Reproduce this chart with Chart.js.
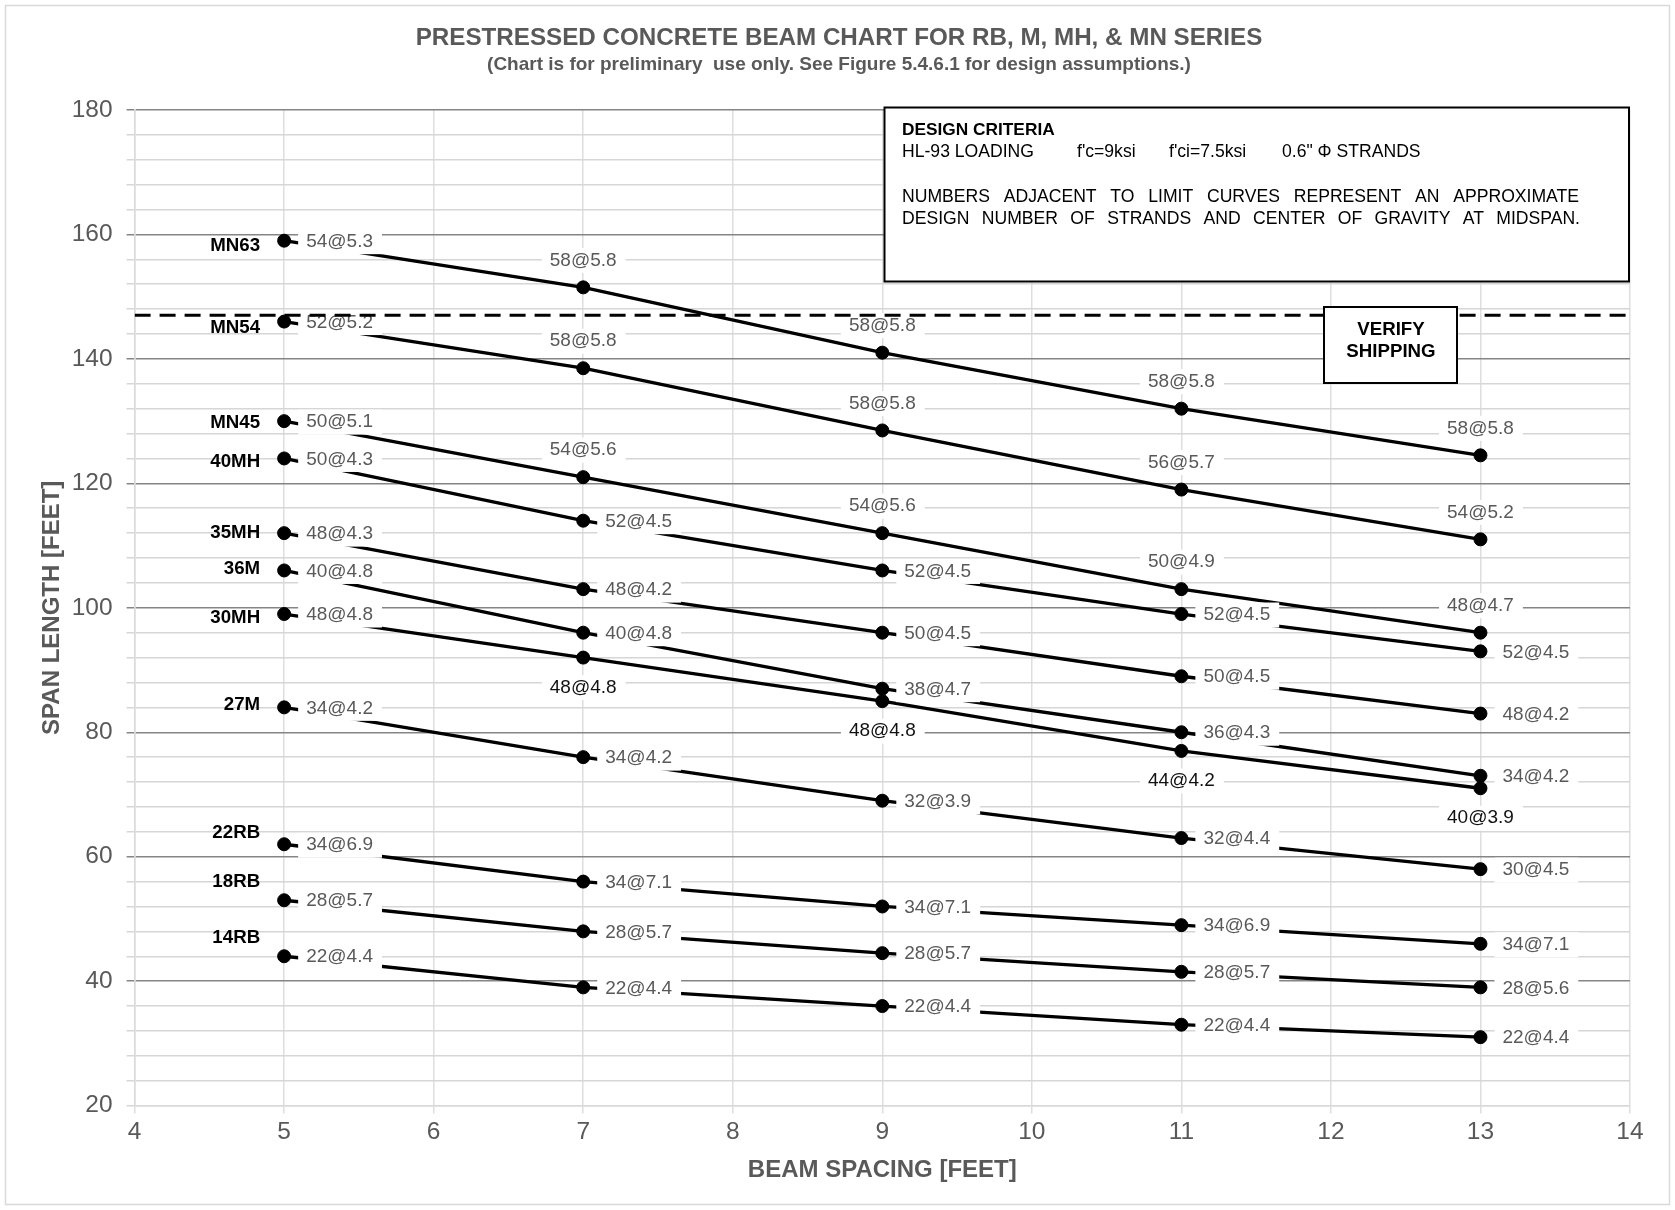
<!DOCTYPE html>
<html>
<head>
<meta charset="utf-8">
<title>Prestressed Concrete Beam Chart</title>
<script src="https://cdn.jsdelivr.net/npm/chart.js@4.4.1/dist/chart.umd.min.js"></script>
<style>
  html, body { margin: 0; padding: 0; background: #fff; }
  canvas { display: block; }
</style>
</head>
<body>
<canvas id="beamChart" width="1675" height="1210"></canvas>
<script>
// beam spacing (ft) where each limit curve was evaluated
const spacing = [5, 7, 9, 11, 13];
const beams = ["MN63", "MN54", "MN45", "40MH", "35MH", "36M", "30MH", "27M", "22RB", "18RB", "14RB"];

// max span length (ft), one value per spacing
const mn63 = [159, 151.5, 141, 132, 124.5];
const mn54 = [146, 138.5, 128.5, 119, 111];
const mn45 = [130, 121, 112, 103, 96];
const mh40 = [124, 114, 106, 99, 93];
const mh35 = [112, 103, 96, 89, 83];
const m36 = [106, 96, 87, 80, 73];
const mh30 = [99, 92, 85, 77, 71];
const m27 = [84, 76, 69, 63, 58];
const rb22 = [62, 56, 52, 49, 46];
const rb18 = [53, 48, 44.5, 41.5, 39];
const rb14 = [44, 39, 36, 33, 31];
const spans = [mn63, mn54, mn45, mh40, mh35, m36, mh30, m27, rb22, rb18, rb14];

// strands @ c.g. at midspan, shown next to each point
const mn63Strands = ["54@5.3", "58@5.8", "58@5.8", "58@5.8", "58@5.8"];
const mn54Strands = ["52@5.2", "58@5.8", "58@5.8", "56@5.7", "54@5.2"];
const mn45Strands = ["50@5.1", "54@5.6", "54@5.6", "50@4.9", "48@4.7"];
const mh40Strands = ["50@4.3", "52@4.5", "52@4.5", "52@4.5", "52@4.5"];
const mh35Strands = ["48@4.3", "48@4.2", "50@4.5", "50@4.5", "48@4.2"];
const m36Strands = ["40@4.8", "40@4.8", "38@4.7", "36@4.3", "34@4.2"];
const mh30Strands = ["48@4.8", "48@4.8", "48@4.8", "44@4.2", "40@3.9"];
const m27Strands = ["34@4.2", "34@4.2", "32@3.9", "32@4.4", "30@4.5"];
const rb22Strands = ["34@6.9", "34@7.1", "34@7.1", "34@6.9", "34@7.1"];
const rb18Strands = ["28@5.7", "28@5.7", "28@5.7", "28@5.7", "28@5.6"];
const rb14Strands = ["22@4.4", "22@4.4", "22@4.4", "22@4.4", "22@4.4"];
const strands = [mn63Strands, mn54Strands, mn45Strands, mh40Strands, mh35Strands, m36Strands,
  mh30Strands, m27Strands, rb22Strands, rb18Strands, rb14Strands];

const shippingLimit = 147;

// where each label sits: r = right of point, a = above, b = below
const labelSide = ["raaaa", "raaaa", "raaaa", "rrrrr", "rrrrr", "rrrrr", "rbbbb", "rrrrr", "rrrrr", "rrrrr", "rrrrr"];
// vertical nudge (px) of the beam name vs its first point
const nameShift = [5, 6, 2, 3, 0, -2, 4, -3, -11, -18, -18];

const FONT = '"Liberation Sans", Arial, sans-serif';
const GRAY = "#595959";

function drawLabel(ctx, text, px, py, side, color) {
  ctx.font = "19px " + FONT;
  const w = ctx.measureText(text).width;
  let tx, cy;
  if (side === "r") { tx = px + 22; cy = py + 1; }
  else if (side === "a") { tx = px - w / 2; cy = py - 27; }
  else { tx = px - w / 2; cy = py + 30; }
  ctx.fillStyle = "#fff";
  ctx.fillRect(tx - 8, cy - 12.5, w + 17, 25);
  ctx.fillStyle = color;
  ctx.textAlign = "left";
  ctx.textBaseline = "middle";
  ctx.fillText(text, tx, cy);
}

function justify(ctx, text, x0, x1, y) {
  const words = text.split(" ");
  let total = 0;
  words.forEach(w => total += ctx.measureText(w).width);
  const gap = (x1 - x0 - total) / (words.length - 1);
  let x = x0;
  words.forEach(w => { ctx.fillText(w, x, y); x += ctx.measureText(w).width + gap; });
}

const beamLabels = {
  id: "beamLabels",
  beforeDraw(chart) {
    const ctx = chart.ctx;
    ctx.save();
    ctx.fillStyle = "#fff";
    ctx.fillRect(0, 0, chart.width, chart.height);
    ctx.strokeStyle = "#d9d9d9";
    ctx.lineWidth = 1.5;
    ctx.strokeRect(5.5, 5.5, 1664, 1199);
    ctx.restore();
  },
  beforeDatasetDraw(chart, args) {
    // labels go under the dashed shipping line but over the curves
    if (args.index !== beams.length) return;
    const ctx = chart.ctx;
    ctx.save();
    beams.forEach((b, i) => {
      chart.getDatasetMeta(i).data.forEach((p, j) => {
        const side = labelSide[i][j];
        drawLabel(ctx, strands[i][j], p.x, p.y, side, side === "b" ? "#111" : GRAY);
      });
    });
    ctx.restore();
  },
  afterDatasetsDraw(chart) {
    const ctx = chart.ctx;
    ctx.save();
    // beam names
    ctx.font = "bold 18.7px " + FONT;
    ctx.fillStyle = "#000";
    ctx.textAlign = "right";
    ctx.textBaseline = "middle";
    beams.forEach((b, i) => {
      const p = chart.getDatasetMeta(i).data[0];
      ctx.fillText(b, p.x - 24, p.y + nameShift[i]);
    });

    // design criteria box
    ctx.fillStyle = "#fff";
    ctx.fillRect(884.5, 107.5, 744.5, 174);
    ctx.strokeStyle = "#000";
    ctx.lineWidth = 2;
    ctx.strokeRect(884.5, 107.5, 744.5, 174);
    ctx.fillStyle = "#000";
    ctx.textAlign = "left";
    ctx.font = "bold 17.3px " + FONT;
    ctx.fillText("DESIGN CRITERIA", 902, 130);
    ctx.font = "17.6px " + FONT;
    ctx.fillText("HL-93 LOADING", 902, 152);
    ctx.fillText("f'c=9ksi", 1077, 152);
    ctx.fillText("f'ci=7.5ksi", 1169, 152);
    ctx.fillText("0.6\" \u03A6 STRANDS", 1282, 152);
    justify(ctx, "NUMBERS ADJACENT TO LIMIT CURVES REPRESENT AN APPROXIMATE", 902, 1579, 197);
    justify(ctx, "DESIGN NUMBER OF STRANDS AND CENTER OF GRAVITY AT MIDSPAN.", 902, 1580, 219);

    // verify shipping box
    ctx.fillStyle = "#fff";
    ctx.fillRect(1324, 307, 133, 76);
    ctx.strokeRect(1324, 307, 133, 76);
    ctx.fillStyle = "#000";
    ctx.textAlign = "center";
    ctx.font = "bold 18.7px " + FONT;
    ctx.fillText("VERIFY", 1391, 330);
    ctx.fillText("SHIPPING", 1391, 352);
    ctx.restore();
  },
  afterDraw(chart) {
    const ctx = chart.ctx;
    ctx.save();
    ctx.fillStyle = GRAY;
    ctx.textAlign = "center";
    ctx.textBaseline = "middle";
    ctx.font = "bold 24.2px " + FONT;
    ctx.fillText("PRESTRESSED CONCRETE BEAM CHART FOR RB, M, MH, & MN SERIES", 839, 38.5);
    ctx.font = "bold 19px " + FONT;
    ctx.fillText("(Chart is for preliminary  use only. See Figure 5.4.6.1 for design assumptions.)", 839, 65);
    ctx.restore();
  }
};

const datasets = beams.map((b, i) => ({
  label: b,
  data: spacing.map((x, j) => ({ x: x, y: spans[i][j] })),
  borderColor: "#000",
  backgroundColor: "#000",
  borderWidth: 3.3,
  pointRadius: 6.5,
  pointBorderWidth: 1,
  pointHoverRadius: 6.5,
  tension: 0,
  order: 0
}));
datasets.push({
  label: "Verify shipping",
  data: [{ x: 4, y: shippingLimit }, { x: 14, y: shippingLimit }],
  borderColor: "#000",
  borderWidth: 3,
  borderDash: [16, 9],
  pointRadius: 0,
  order: -1
});

Chart.defaults.font.family = FONT;

new Chart(document.getElementById("beamChart").getContext("2d"), {
  type: "line",
  data: { datasets: datasets },
  options: {
    responsive: false,
    animation: false,
    devicePixelRatio: 1,
    layout: { padding: { left: 0, right: 45, top: 110, bottom: 0 } },
    plugins: { legend: { display: false }, tooltip: { enabled: false } },
    scales: {
      x: {
        type: "linear",
        min: 4,
        max: 14,
        ticks: { stepSize: 1, color: GRAY, font: { size: 24.5 }, padding: 4 },
        grid: { color: "#dedede", lineWidth: 1.5, tickLength: 8 },
        border: { color: "#d9d9d9", width: 1.5 },
        title: { display: true, text: "BEAM SPACING [FEET]", color: GRAY, font: { size: 24, weight: "bold" }, padding: { top: 0, bottom: 25.6 } },
        afterFit: s => { s.height = 104.4; }
      },
      y: {
        min: 20,
        max: 180,
        ticks: {
          stepSize: 4,
          autoSkip: false,
          color: GRAY,
          font: { size: 24.5 },
          padding: 14,
          callback: v => (v % 20 === 0 ? v : "")
        },
        grid: {
          color: c => (c.tick && c.tick.value % 20 === 0 && c.tick.value > 20 ? "#858585" : "#d6d6d6"),
          lineWidth: 1.5,
          tickLength: 8
        },
        border: { color: "#d9d9d9", width: 1.5 },
        title: { display: true, text: "SPAN LENGTH [FEET]", color: GRAY, font: { size: 24, weight: "bold" }, padding: { top: 37.6, bottom: 0 } },
        afterFit: s => { s.width = 134.6; }
      }
    }
  },
  plugins: [beamLabels]
});
</script>
</body>
</html>
